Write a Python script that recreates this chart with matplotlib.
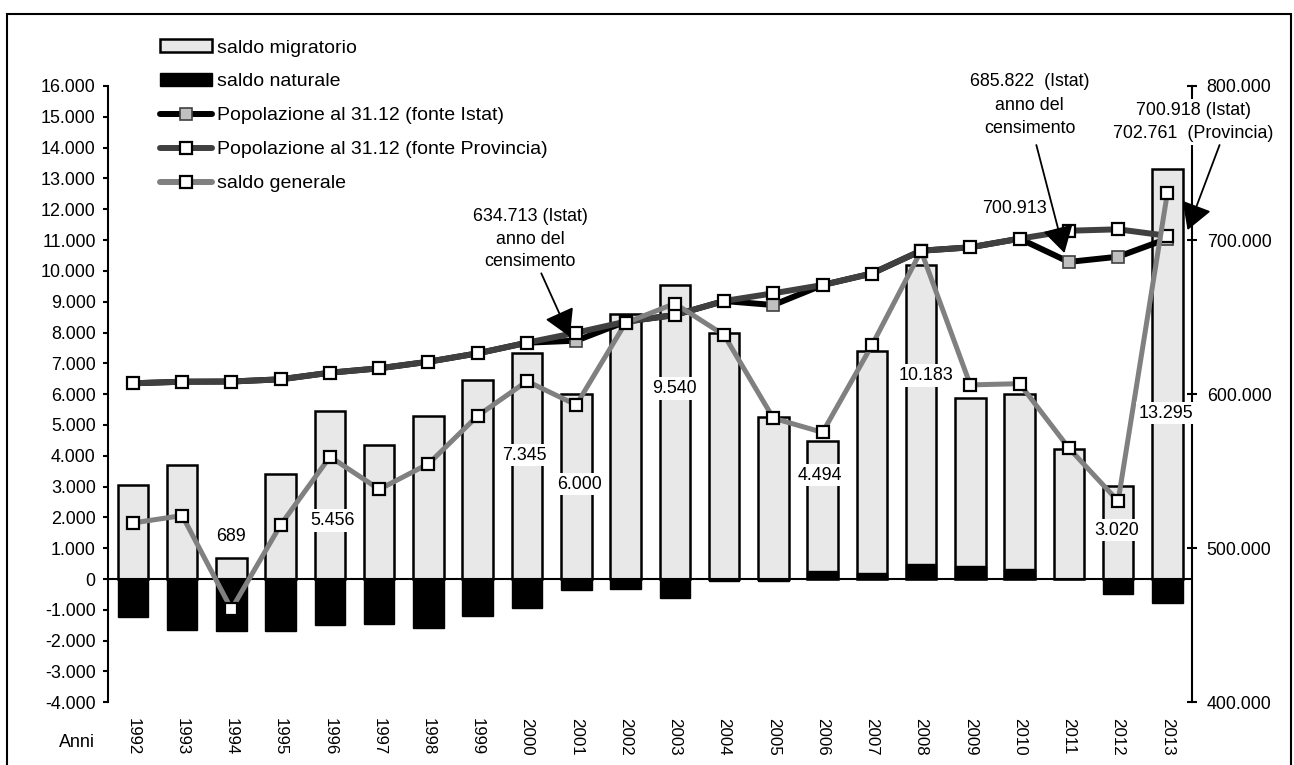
import numpy as np
import matplotlib.pyplot as plt
from matplotlib.patches import Patch, Rectangle
from matplotlib.lines import Line2D

plt.rcParams['font.family'] = ['Liberation Sans', 'DejaVu Sans']
FS = 12.9
FS_X = 12.2
FS_LEG = 14

anni = [str(a) for a in range(1992, 2014)]
saldo_migratorio = [3050, 3700, 689, 3410, 5456, 4360, 5300, 6470, 7345, 6000, 8600,
                    9540, 7980, 5270, 4494, 7390, 10183, 5890, 6020, 4230, 3020, 13295]
saldo_naturale = [-1240, -1650, -1690, -1680, -1500, -1460, -1590, -1190, -950, -370, -320,
                  -600, -60, -50, 270, 200, 490, 410, 320, 10, -500, -770]
saldo_generale = [1820, 2060, -980, 1760, 3970, 2910, 3740, 5300, 6420, 5650, 8310,
                  8940, 7920, 5220, 4760, 7580, 10650, 6300, 6340, 4250, 2530, 12530]
pop_istat = [607040, 608080, 608200, 609630, 613920, 616770, 621050, 626510, 633390, 634713, 647020,
             651370, 660450, 657850, 670830, 678300, 693090, 695300, 700913, 685822, 689200, 700918]
pop_provincia = [607040, 608080, 608200, 609630, 613920, 616770, 621050, 626510, 633390, 639880, 647020,
                 651370, 660450, 665450, 670830, 678300, 693090, 695300, 700913, 706070, 706980, 702761]

# bars with a value label, and where the label sits (left axis units)
lbl_idx = [2, 4, 8, 9, 11, 14, 16, 20, 21]
lbl_dx = [0.0, 0.05, -0.05, 0.07, 0.0, -0.05, 0.11, -0.02, -0.03]
lbl_y = [1395, 1892, 4024, 3083, 6189, 3375, 6597, 1590, 5387]


def fmt(v):
    return f"{v:,.0f}".replace(",", ".")


fig = plt.figure(figsize=(12.94, 7.65), dpi=100)
ax = fig.add_axes([108.3 / 1294, 1 - 702.3 / 765, (1192 - 108.3) / 1294, (702.3 - 86) / 765])
x = np.arange(len(anni))

ax.bar(x, saldo_migratorio, width=0.62, color='#e8e8e8', edgecolor='black', linewidth=1.8, zorder=2)
ax.bar(x, saldo_naturale, width=0.62, color='black', edgecolor='black', linewidth=1, zorder=3)
ax.axhline(0, color='black', lw=1.5, zorder=4)

ax.set_xlim(-0.5, 21.5)
ax.set_ylim(-4000, 16000)
yt = np.arange(-4000, 16001, 1000)
ax.set_yticks(yt, [fmt(v) for v in yt])
ax.set_xticks(x, anni, rotation=-90)
ax.tick_params(axis='x', length=0, pad=11, labelsize=FS_X)
ax.tick_params(axis='y', direction='out', length=3.6, width=1.5, pad=5.5, labelsize=FS)
for s in ['top', 'right', 'bottom']:
    ax.spines[s].set_visible(False)
ax.spines['left'].set_linewidth(1.5)

# population on right axis
ax2 = ax.twinx()
ax2.plot(x, pop_istat, color='black', lw=4.3, marker='s', ms=9, mfc='#c0c0c0', mec='#404040', mew=1.2, zorder=2)
ax2.plot(x, pop_provincia, color='#404040', lw=4.3, marker='s', ms=8, mfc='white', mec='black', mew=1.6, zorder=3)
ax2.set_ylim(400000, 800000)
rt = np.arange(400000, 800001, 100000)
ax2.set_yticks(rt, [fmt(v) for v in rt])
ax2.tick_params(axis='y', direction='inout', length=7.2, width=1.5, pad=7, labelsize=FS)
for s in ['top', 'left', 'bottom']:
    ax2.spines[s].set_visible(False)
ax2.spines['right'].set_linewidth(1.5)

arrow = dict(arrowstyle='-|>,head_length=0.55,head_width=0.32', color='black', lw=1.3,
             mutation_scale=30, shrinkA=0, shrinkB=0)
ax2.annotate('', xy=(8.87, 637280), xytext=(8.29, 678420), arrowprops=arrow, zorder=6)
ax2.annotate('', xy=(18.91, 691600), xytext=(18.34, 761700), arrowprops=arrow, zorder=6)
ax2.annotate('', xy=(21.41, 706500), xytext=(22.06, 761700), arrowprops=arrow, zorder=6, annotation_clip=False)
ax2.text(8.06, 700690, '634.713 (Istat)\nanno del\ncensimento', ha='center', va='center',
         fontsize=FS, linespacing=1.42)
ax2.text(18.20, 787460, '685.822  (Istat)\nanno del\ncensimento', ha='center', va='center',
         fontsize=FS, linespacing=1.5)
ax2.text(17.90, 720610, '700.913', ha='center', va='center', fontsize=FS)
ax2.text(21.53, 776620, '700.918 (Istat)\n702.761  (Provincia)', ha='center', va='center',
         fontsize=FS, linespacing=1.45, zorder=5,
         bbox=dict(facecolor='white', edgecolor='none', pad=2))

# saldo generale on top, same scale as left axis
ax3 = ax.twinx()
ax3.set_ylim(ax.get_ylim())
ax3.axis('off')
ax3.plot(x, saldo_generale, color='#808080', lw=3.6, marker='s', ms=8, mfc='white', mec='black', mew=1.6, zorder=2)
for i, dx, yy in zip(lbl_idx, lbl_dx, lbl_y):
    ax3.text(x[i] + dx, yy, fmt(saldo_migratorio[i]), ha='center', va='center', fontsize=FS, zorder=5,
             bbox=dict(facecolor='white', edgecolor='none', pad=2))

fig.text(95 / 1294, 1 - 742.7 / 765, 'Anni', ha='right', va='center', fontsize=FS)

handles = [
    Patch(facecolor='#e8e8e8', edgecolor='black', linewidth=1.8),
    Patch(facecolor='black', edgecolor='black'),
    Line2D([], [], color='black', lw=4.3, marker='s', ms=9, mfc='#c0c0c0', mec='#404040', mew=1.2,
           solid_capstyle='round'),
    Line2D([], [], color='#404040', lw=4.3, marker='s', ms=8, mfc='white', mec='black', mew=1.6,
           solid_capstyle='round'),
    Line2D([], [], color='#808080', lw=4.3, marker='s', ms=8, mfc='white', mec='black', mew=1.6,
           solid_capstyle='round'),
]
labels = ['saldo migratorio', 'saldo naturale', 'Popolazione al 31.12 (fonte Istat)',
          'Popolazione al 31.12 (fonte Provincia)', 'saldo generale']
fig.legend(handles, labels, loc='upper left', bbox_to_anchor=(160 / 1294, 1 - 39.5 / 765),
           frameon=False, fontsize=FS_LEG, handlelength=2.65, handleheight=0.6, handletextpad=0.26,
           labelspacing=0.87, borderpad=0, borderaxespad=0)

fig.add_artist(Rectangle((7.3 / 1294, -0.05), (1291 - 7.3) / 1294, 1.05 - 14 / 765,
                         transform=fig.transFigure, fill=False, edgecolor='black', lw=1.5))

fig.savefig('out.png', dpi=100)
